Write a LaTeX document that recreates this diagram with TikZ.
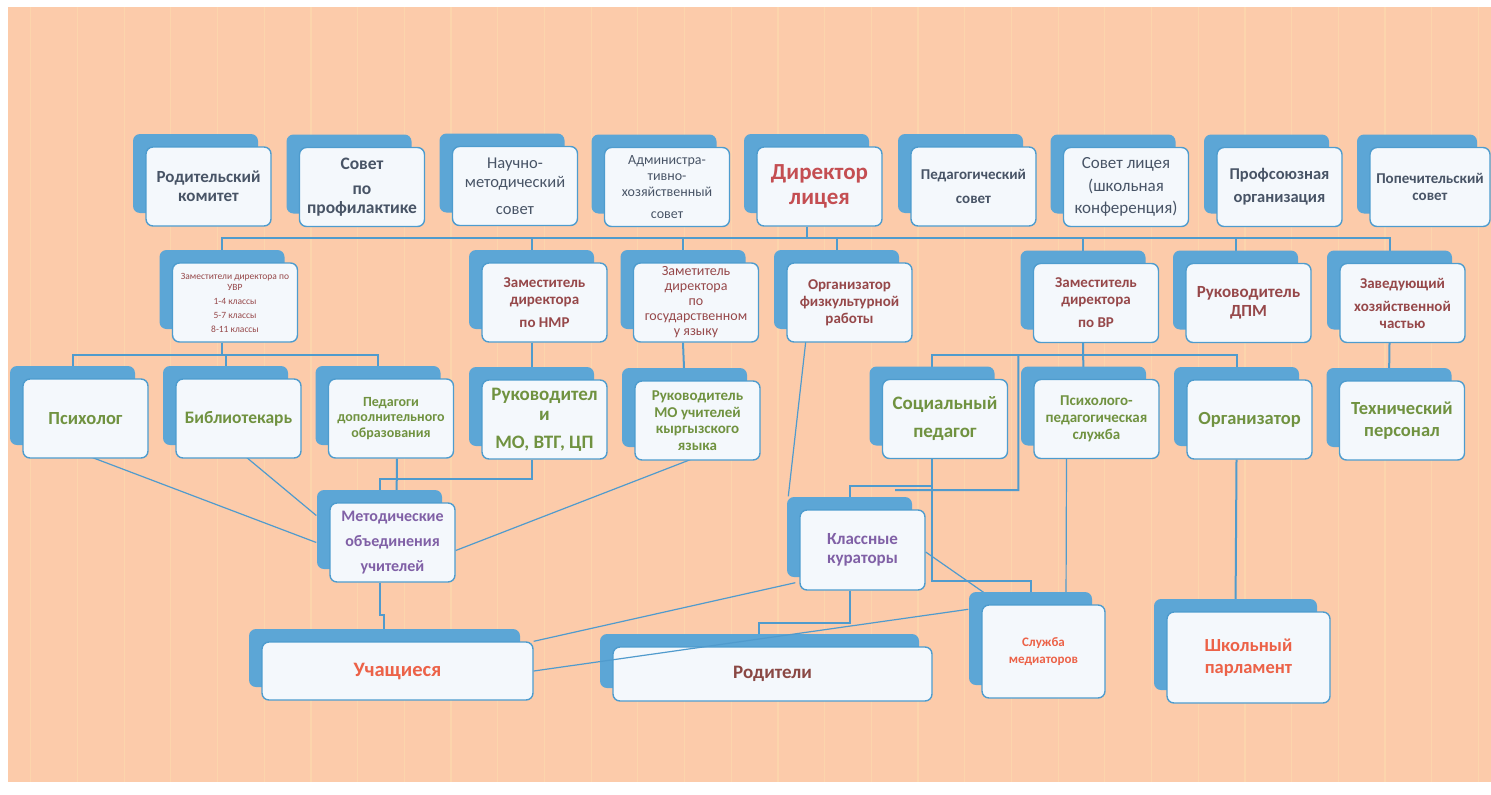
\documentclass[tikz,border=0pt]{standalone}
\usepackage{fontspec}
\setmainfont{Carlito}
\usetikzlibrary{shadows}

\definecolor{paper}{RGB}{252,203,170}
\definecolor{paperstripe}{RGB}{252,213,172}
\definecolor{boxblue}{RGB}{92,166,214}
\definecolor{boxline}{RGB}{78,156,206}
\definecolor{boxfill}{RGB}{244,248,252}
\definecolor{wirecol}{RGB}{80,155,205}
\definecolor{topink}{RGB}{72,84,102}
\definecolor{dirred}{RGB}{196,78,82}
\definecolor{depink}{RGB}{150,72,74}
\definecolor{greenink}{RGB}{112,146,64}
\definecolor{moink}{RGB}{128,96,166}
\definecolor{redink}{RGB}{236,98,72}
\definecolor{brownink}{RGB}{138,72,68}

\newcommand{\fsz}[2]{\fontsize{#1pt}{#2pt}\selectfont}

\pgfdeclarelayer{paper}
\pgfdeclarelayer{wires}
\pgfsetlayers{paper,wires,main}

\begin{document}
\begin{tikzpicture}[x=1pt, y=-1pt,
    box/.style={draw=boxline, line width=1.4pt, fill=boxfill, rounded corners=7pt,
      general shadow={fill=boxblue, shadow xshift=-13pt, shadow yshift=13pt},
      minimum width=125pt, minimum height=79pt, inner sep=2pt, align=center},
    top/.style={box, text=topink, font=\bfseries\fsz{17}{19}},
    deputy/.style={box, text=depink, font=\bfseries\fsz{15}{17}},
    staff/.style={box, text=greenink, font=\bfseries\fsz{18.5}{22}},
    group/.style={box, text=moink, font=\bfseries\fsz{16}{25}},
    pupil/.style={box, text=redink, font=\bfseries\fsz{18.5}{21.5}},
    link/.style={draw=wirecol, line width=2pt},
    wire/.style={draw=wirecol, line width=1.2pt}]
\useasboundingbox (0,0) rectangle (1491,795);

\begin{pgfonlayer}{paper}
  \fill[paper] (8,7) rectangle (1491,782);
  \foreach \sx in {30.7,77.4,...,1491}
    \draw[paperstripe, line width=1.2pt] (\sx,7) -- (\sx,782);
\end{pgfonlayer}

% councils
\node[top] (rk) at (208.5,186.5) {Родительский\\комитет};
\node[top, font=\bfseries\fsz{17.5}{19}] (sp) at (362,187) {Совет\\[6pt]по\\профилактике};
\node[top, font=\fsz{16.5}{19}] (nms) at (515,186) {Научно-\\методический\\[8pt]совет};
\node[top, font=\fsz{14}{16}] (ahs) at (667,187) {Администра-\\тивно-\\хозяйственный\\[6pt]совет};
\node[top, text=dirred, font=\bfseries\fsz{23}{25}] (dir) at (819.5,186.5) {Директор\\лицея};
\node[top, font=\bfseries\fsz{15}{24}] (ps) at (973.5,186.5) {Педагогический\\совет};
\node[top, font=\fsz{17}{22.5}] (sl) at (1126,187) {Совет лицея\\(школьная\\конференция)};
\node[top, font=\bfseries\fsz{16.5}{23}] (po) at (1279.5,187) {Профсоюзная\\организация};
\node[top, minimum width=120pt, font=\bfseries\fsz{15}{17}] (pop) at (1430,187) {Попечительский\\совет};

% deputies
\node[deputy, font=\fsz{9.5}{11}] (uvr) at (235,302.5) {Заместители директора по\\УВР\\[3pt]1-4 классы\\[3pt]5-7 классы\\[3pt]8-11 классы};
\node[deputy] (nmr) at (544.5,302.5) {Заместитель\\директора\\[6pt]по НМР};
\node[deputy, font=\fsz{14}{15}] (gos) at (696,302.5) {Заметитель\\директора\\по\\государственном\\у языку};
\node[deputy] (fiz) at (849.5,302.5) {Организатор\\физкультурной\\работы};
\node[deputy] (vr) at (1096,303) {Заместитель\\директора\\[6pt]по ВР};
\node[deputy, font=\bfseries\fsz{17}{19}] (dpm) at (1248.5,303) {Руководитель\\ДПМ};
\node[deputy] (zav) at (1402.5,303) {Заведующий\\[6pt]хозяйственной\\частью};

% staff
\node[staff] (psy) at (85.5,418.5) {Психолог};
\node[staff, font=\bfseries\fsz{17.5}{20}] (bib) at (238.5,418.5) {Библиотекарь};
\node[staff, font=\bfseries\fsz{14}{15.5}] (ped) at (391,418.5) {Педагоги\\дополнительного\\образования};
\node[staff, font=\bfseries\fsz{19}{20}] (rukmo) at (544.5,419.5) {Руководител\\и\\[8pt]МО, ВТГ, ЦП};
\node[staff, font=\bfseries\fsz{15}{16.5}] (kyrg) at (697.5,420.5) {Руководитель\\МО учителей\\кыргызского\\языка};
\node[staff, font=\bfseries\fsz{19}{28}] (soc) at (945,419) {Социальный\\педагог};
\node[staff, font=\bfseries\fsz{15}{17}] (pps) at (1096.5,419) {Психолого-\\педагогическая\\служба};
\node[staff] (org) at (1249.5,419.5) {Организатор};
\node[staff] (tech) at (1402,420.5) {Технический\\персонал};

% lower part
\node[group] (mo) at (392.5,542.5) {Методические\\объединения\\учителей};
\node[group, minimum height=80pt, font=\bfseries\fsz{17}{19}] (kur) at (862.5,550) {Классные\\кураторы};
\node[pupil, minimum width=271pt, minimum height=58pt, font=\bfseries\fsz{20.5}{24}] (uch) at (397.5,671) {Учащиеся};
\node[pupil, text=brownink, minimum width=319pt, minimum height=54pt, font=\bfseries\fsz{19}{22}] (rod) at (772.5,674) {Родители};
\node[pupil, minimum width=123pt, minimum height=93pt, font=\bfseries\fsz{13}{17}] (med) at (1043.5,651.5) {Служба\\медиаторов};
\node[pupil, minimum width=163pt, minimum height=91pt] (parl) at (1248.5,657.5) {Школьный\\парламент};

\begin{pgfonlayer}{wires}
  % director bus
  \draw[link] ([xshift=-13pt]dir.south) -- ++(0,11) coordinate (topbus);
  \foreach \n in {uvr,nmr,gos,fiz,vr,dpm,zav}
    \draw[link] (topbus) -| ([xshift=-13pt]\n.north);
  % uvr bus
  \draw[link] ([xshift=-13pt]uvr.south) -- ++(0,12) coordinate (uvrbus);
  \foreach \n in {psy,bib,ped}
    \draw[link] (uvrbus) -| ([xshift=-13pt]\n.north);
  % vr bus
  \draw[link] ([xshift=-13pt]vr.south) -- ([xshift=-13pt]pps.north);
  \path ([xshift=-13pt]vr.south) ++(0,12) coordinate (vrbus);
  \foreach \n in {soc,org}
    \draw[link] (vrbus) -| ([xshift=-13pt]\n.north);
  \coordinate (kurjoin) at (895,490);
  \draw[link] (vrbus -| pps.north west) ++(-15,0) -- ++(0,135) -- (kurjoin);
  \draw[link] ([xshift=-13pt]nmr.south) -- ([xshift=-13pt]rukmo.north);
  \draw[link] ([xshift=-13pt]gos.south) -- ([xshift=-13pt]kyrg.north);
  \draw[link] ([xshift=-13pt]zav.south) -- ([xshift=-13pt]tech.north);
  \draw[link] ([xshift=-13pt]org.south) -- ([xshift=-13pt]parl.north);
  % social pedagogue
  \draw[link] ([xshift=-13pt]soc.south) -- ++(0,27) -| ([xshift=-13pt]kur.north);
  \draw[link] ([xshift=-13pt]soc.south) -- ++(0,122) -| ([xshift=-13pt]med.north);
  \draw[wire] ([xshift=-30pt]pps.south) -- ([xshift=22.5pt]med.north);
  % curators
  \draw[wire] ([xshift=21pt,yshift=15pt]fiz.south west) -- ([xshift=-11pt,yshift=13pt]kur.north west);
  \draw[link] ([xshift=-13pt]kur.south) -- ++(0,32) -| ([xshift=-14pt]rod.north);
  \draw[wire] ([yshift=-2pt]kur.east) -- ([xshift=-60pt,yshift=12pt]med.north);
  \draw[wire] ([xshift=-4pt,yshift=8pt]kur.south west) -- (uch.north east);
  % methodical groups
  \draw[link] ([xshift=-13pt]rukmo.south) -- ++(0,19) -| ([xshift=-13pt]mo.north);
  \draw[link] ([xshift=6pt]ped.south) -- ([xshift=4pt]mo.north);
  \draw[wire] ([xshift=2pt,yshift=3pt]psy.south) -- ([xshift=-13pt]mo.west);
  \draw[wire] ([xshift=6pt,yshift=3pt]bib.south) -- ([xshift=-13pt,yshift=27pt]mo.west);
  \draw[wire] ([xshift=3pt,yshift=5pt]kyrg.south) -- ([yshift=-8pt]mo.east);
  \draw[link] ([xshift=-13pt]mo.south) -- ++(0,32) -| ([xshift=-14pt]uch.north);
\end{pgfonlayer}
\draw[wire] ([xshift=-13pt,yshift=-5pt]med.north west) -- (uch.east);
\end{tikzpicture}
\end{document}
